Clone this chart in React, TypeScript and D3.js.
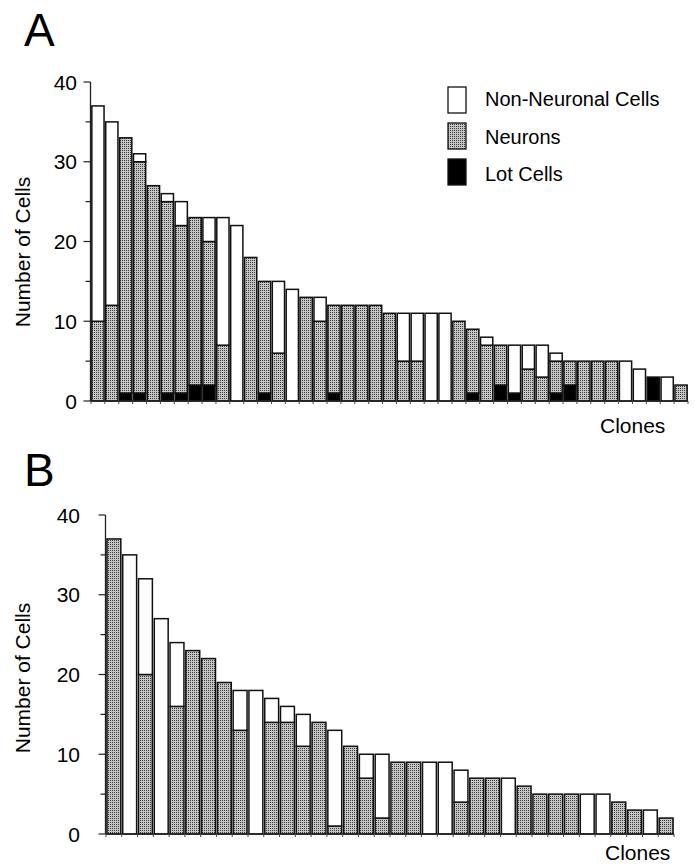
import React, { useEffect, useRef } from 'react';
import * as d3 from 'd3';

// panel A: lot cells / neurons / non-neuronal cells per clone
const lotA = [0, 0, 1, 1, 0, 1, 1, 2, 2, 0, 0, 0, 1, 0, 0, 0, 0, 1, 0, 0, 0, 0, 0, 0, 0, 0, 0, 1, 0, 2, 1, 0, 0, 1, 2, 0, 0, 0, 0, 0, 3, 0, 0];
const neuronA = [10, 12, 32, 29, 27, 24, 21, 21, 18, 7, 0, 18, 14, 6, 0, 13, 10, 11, 12, 12, 12, 11, 5, 5, 0, 0, 10, 8, 7, 5, 0, 4, 3, 4, 3, 5, 5, 5, 0, 0, 0, 0, 2];
const nonA = [27, 23, 0, 1, 0, 1, 3, 0, 3, 16, 22, 0, 0, 9, 14, 0, 3, 0, 0, 0, 0, 0, 6, 6, 11, 11, 0, 0, 1, 0, 6, 3, 4, 1, 0, 0, 0, 0, 5, 4, 0, 3, 0];

// panel B: neurons / non-neuronal cells per clone
const neuronB = [37, 0, 20, 0, 16, 23, 22, 19, 13, 0, 14, 14, 11, 14, 1, 11, 7, 2, 9, 9, 0, 0, 4, 7, 7, 0, 6, 5, 5, 5, 0, 0, 4, 3, 0, 2];
const nonB = [0, 35, 12, 27, 8, 0, 0, 0, 5, 18, 3, 2, 4, 0, 12, 0, 3, 8, 0, 0, 9, 9, 4, 0, 0, 7, 0, 0, 0, 0, 5, 5, 0, 0, 3, 0];

const yTicks = [0, 10, 20, 30, 40];
const legendItems = ['Non-Neuronal Cells', 'Neurons', 'Lot Cells'];

const FONT = "'Liberation Sans', Arial, Helvetica, sans-serif";
const fills: Record<string, string> = { lot: '#000', neuron: 'url(#stipple)', non: '#fff' };

function drawPanel(svg, opts) {
  const { label, labelY, axisX, x0, x1, y0, y40, series, titleY, clonesX, clonesY, tickRight } = opts;
  const n = series[0].values.length;
  const g = svg.append('g');

  const x = d3.scaleBand<number>()
    .domain(d3.range(n))
    .range([x0, x1])
    .paddingInner(0.12)
    .paddingOuter(0.06);
  const y = d3.scaleLinear().domain([0, 40]).range([y0, y40]);

  // stacked bars
  const rows = d3.range(n).map(i => {
    const r: any = { i };
    series.forEach(s => (r[s.key] = s.values[i]));
    return r;
  });
  const stack = d3.stack().keys(series.map(s => s.key));
  const layers = stack(rows);

  layers.forEach(layer => {
    g.append('g')
      .selectAll('rect')
      .data(layer.filter(d => d[1] - d[0] > 0))
      .enter()
      .append('rect')
      .attr('x', d => x(d.data.i))
      .attr('width', x.bandwidth())
      .attr('y', d => y(d[1]))
      .attr('height', d => y(d[0]) - y(d[1]))
      .attr('fill', fills[layer.key])
      .attr('stroke', '#111')
      .attr('stroke-width', 1.5);
  });

  // y axis
  g.append('line')
    .attr('x1', axisX).attr('x2', axisX)
    .attr('y1', y(40)).attr('y2', y(0))
    .attr('stroke', '#222').attr('stroke-width', 1.3);
  d3.range(0, 41, 5).forEach(v => {
    g.append('line')
      .attr('x1', axisX - (v % 10 === 0 ? 7 : 5)).attr('x2', axisX)
      .attr('y1', y(v)).attr('y2', y(v))
      .attr('stroke', '#222').attr('stroke-width', 1.2);
  });
  g.selectAll('.ytick')
    .data(yTicks)
    .enter()
    .append('text')
    .attr('x', tickRight)
    .attr('y', d => y(d))
    .attr('dy', '0.36em')
    .attr('text-anchor', 'end')
    .attr('font-family', FONT)
    .attr('font-size', 21)
    .text(d => d);

  // x axis with small ticks between bars
  g.append('line')
    .attr('x1', axisX).attr('x2', x1)
    .attr('y1', y(0)).attr('y2', y(0))
    .attr('stroke', '#222').attr('stroke-width', 1.3);
  d3.range(n + 1).forEach(i => {
    const xx = x0 + i * x.step();
    g.append('line')
      .attr('x1', xx).attr('x2', xx)
      .attr('y1', y(0)).attr('y2', y(0) + 3)
      .attr('stroke', '#444').attr('stroke-width', 1);
  });

  // titles
  g.append('text')
    .attr('x', 24).attr('y', labelY)
    .attr('font-family', FONT)
    .attr('font-size', 46)
    .text(label);

  g.append('text')
    .attr('transform', `translate(30,${titleY}) rotate(-90)`)
    .attr('text-anchor', 'middle')
    .attr('font-family', FONT)
    .attr('font-size', 21)
    .text('Number of Cells');

  g.append('text')
    .attr('x', clonesX).attr('y', clonesY)
    .attr('font-family', FONT)
    .attr('font-size', 21)
    .text('Clones');
}

export default function App() {
  const ref = useRef<HTMLDivElement>(null);

  useEffect(() => {
    const root = d3.select(ref.current);
    root.selectAll('*').remove();
    const svg = root.append('svg')
      .attr('width', 695)
      .attr('height', 864)
      .style('position', 'absolute')
      .style('left', 0)
      .style('top', 0)
      .style('background', '#fff');

    const defs = svg.append('defs');
    const pat = defs.append('pattern')
      .attr('id', 'stipple')
      .attr('width', 2).attr('height', 2)
      .attr('patternUnits', 'userSpaceOnUse');
    pat.append('rect').attr('width', 2).attr('height', 2).attr('fill', '#c6c6c6');
    pat.append('rect').attr('width', 1).attr('height', 1).attr('fill', '#3a3a3a');

    drawPanel(svg, {
      label: 'A', labelY: 46, axisX: 90.5, x0: 91, x1: 688, y0: 401, y40: 82,
      titleY: 252, clonesX: 600, clonesY: 433, tickRight: 77,
      series: [
        { key: 'lot', values: lotA },
        { key: 'neuron', values: neuronA },
        { key: 'non', values: nonA },
      ],
    });

    drawPanel(svg, {
      label: 'B', labelY: 486, axisX: 105.5, x0: 106, x1: 674, y0: 834, y40: 515,
      titleY: 678, clonesX: 605, clonesY: 860, tickRight: 80,
      series: [
        { key: 'neuron', values: neuronB },
        { key: 'non', values: nonB },
      ],
    });

    // legend (panel A)
    const legend = svg.append('g');
    legendItems.forEach((name, i) => {
      const key = ['non', 'neuron', 'lot'][i];
      legend.append('rect')
        .attr('x', 448).attr('y', 87 + i * 36)
        .attr('width', 18).attr('height', 26)
        .attr('fill', fills[key])
        .attr('stroke', '#111').attr('stroke-width', 1.3);
      legend.append('text')
        .attr('x', 485).attr('y', 106 + i * 37.5)
        .attr('font-family', FONT)
        .attr('font-size', 20)
        .text(name);
    });
  }, []);

  return <div ref={ref} />;
}
